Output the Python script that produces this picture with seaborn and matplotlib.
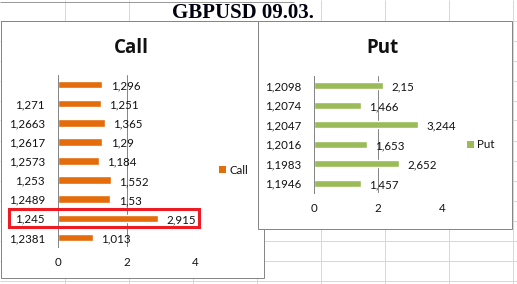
import matplotlib
matplotlib.use("Agg")
import matplotlib.pyplot as plt
import matplotlib.transforms as mtransforms
from matplotlib.patches import Rectangle, Patch
from matplotlib.lines import Line2D
import seaborn as sns
import pandas as pd

# ---------------- data ----------------
call_levels = ["", "1,271", "1,2663", "1,2617", "1,2573", "1,253", "1,2489", "1,245", "1,2381"]
call_values = [1.296, 1.251, 1.365, 1.29, 1.184, 1.552, 1.53, 2.915, 1.013]
put_levels = ["1,2098", "1,2074", "1,2047", "1,2016", "1,1983", "1,1946"]
put_values = [2.15, 1.466, 3.244, 1.653, 2.652, 1.457]
x_ticks = [0, 2, 4]
main_title = "GBPUSD 09.03."
call_title = "Call"
put_title = "Put"
highlight_level = "1,245"

CALL_COLOR = "#E46C0A"
PUT_COLOR = "#9BBB59"
GRID_GRAY = "#868686"
SHEET_GRAY = "#D8D8D8"
TEXT = "#111111"

W, H = 517, 284
sns.set_theme(style="white")
plt.rcParams["font.family"] = ["Lato", "DejaVu Sans"]

fig = plt.figure(figsize=(W / 100, H / 100), dpi=100)
fig.patch.set_facecolor("white")
PX = 0.72  # one pixel in points


def fx(x):
    return x / W


def fy(y):
    return 1 - y / H


def line(x0, y0, x1, y1, color, lw=1.0, z=-10):
    fig.add_artist(Line2D([fx(x0), fx(x1)], [fy(y0), fy(y1)], color=color,
                          lw=lw * PX, zorder=z, solid_capstyle="butt"))


# ---------------- spreadsheet background ----------------
for x in [64, 128, 192, 256, 320, 384, 448, 512]:
    y_start = 0 if x not in (192, 256) else 20.5
    line(x + 0.5, y_start, x + 0.5, H, SHEET_GRAY)
for k in range(15):
    y = 20.5 + 20 * k
    line(0, y, W, y, SHEET_GRAY)
line(0, 1.5, 294, 1.5, "#9A9A9A", z=-9)

fig.text(fx(243), fy(18), main_title, ha="center", va="baseline",
         fontsize=15, fontweight="bold", family=["Liberation Serif"],
         color="#000010", zorder=-8)

# ---------------- panels ----------------
call_panel = Rectangle((fx(0.5), fy(277.5)), fx(264) - fx(0.5), fy(20.5) - fy(277.5),
                       transform=fig.transFigure, facecolor="white",
                       edgecolor=GRID_GRAY, lw=PX, zorder=-5)
fig.add_artist(call_panel)
put_panel = Rectangle((fx(257.5), fy(228.5)), fx(511.5) - fx(257.5), fy(20.5) - fy(228.5),
                      transform=fig.transFigure, facecolor="white",
                      edgecolor=GRID_GRAY, lw=PX, zorder=1)
fig.add_artist(put_panel)


def style_axis(ax, levels, pad):
    ax.set_xlim(0, 4)
    ax.set_xticks(x_ticks)
    ax.set_xticklabels([str(t) for t in x_ticks])
    ax.set_facecolor("none")
    for s in ["top", "right", "bottom"]:
        ax.spines[s].set_visible(False)
    ax.spines["left"].set_color(GRID_GRAY)
    ax.spines["left"].set_linewidth(PX)
    for t in x_ticks[1:]:
        ax.axvline(t, color=GRID_GRAY, lw=PX, zorder=0)
    ax.set_xlabel("")
    ax.set_ylabel("")
    ax.tick_params(axis="x", length=0, pad=7, labelsize=8.3, labelcolor=TEXT)
    ax.tick_params(axis="y", which="major", length=0, pad=pad, labelsize=8.3,
                   labelcolor=TEXT)
    ax.set_yticks([i - 0.5 for i in range(len(levels) + 1)], minor=True)
    ax.tick_params(axis="y", which="minor", length=4, width=PX, color=GRID_GRAY,
                   direction="out")


def label_bars(ax, values):
    for i, v in enumerate(values):
        ax.annotate(f"{v:g}".replace(".", ","), xy=(v, i), xytext=(6, -1),
                    textcoords="offset points", ha="left", va="center",
                    fontsize=8.3, color=TEXT, annotation_clip=False)


# ---------------- Call chart ----------------
ax1 = fig.add_axes([fx(58), fy(247), 137 / W, 172 / H])
ax1.set_zorder(0)
call_df = pd.DataFrame({"level": call_levels, "value": call_values})
sns.barplot(data=call_df, x="value", y="level", order=call_levels, color=CALL_COLOR,
            saturation=1, width=0.4, ax=ax1)
style_axis(ax1, call_levels, 9.5)
label_bars(ax1, call_values)
ax1.legend(handles=[Patch(facecolor=CALL_COLOR, edgecolor="none", label=call_title)],
           loc="center left", bbox_to_anchor=(fx(219), fy(170)),
           bbox_transform=fig.transFigure, frameon=False, fontsize=8.3,
           labelcolor=TEXT, handlelength=0.6, handleheight=0.6, handletextpad=0.3,
           borderpad=0, borderaxespad=0)
fig.text(fx(131), fy(53), call_title, ha="center", va="baseline",
         fontsize=13.5, fontweight="bold", family=["Open Sans", "DejaVu Sans"],
         color=TEXT, zorder=-4)

# highlight box around the chosen level row
idx = call_levels.index(highlight_level)
blend = mtransforms.blended_transform_factory(fig.transFigure, ax1.transData)
fig.add_artist(Rectangle((fx(9), idx - 0.47), fx(199) - fx(9), 0.94,
                         transform=blend, facecolor="none", edgecolor="#ED1C24",
                         lw=2.2, zorder=0.5, clip_on=False))

# ---------------- Put chart ----------------
ax2 = fig.add_axes([fx(314), fy(193), 128 / W, 117 / H])
ax2.set_zorder(2)
put_df = pd.DataFrame({"level": put_levels, "value": put_values})
sns.barplot(data=put_df, x="value", y="level", order=put_levels, color=PUT_COLOR,
            saturation=1, width=0.38, ax=ax2)
style_axis(ax2, put_levels, 9)
label_bars(ax2, put_values)
ax2.legend(handles=[Patch(facecolor=PUT_COLOR, edgecolor="none", label=put_title)],
           loc="center left", bbox_to_anchor=(fx(467), fy(145)),
           bbox_transform=fig.transFigure, frameon=False, fontsize=8.3,
           labelcolor=TEXT, handlelength=0.6, handleheight=0.6, handletextpad=0.3,
           borderpad=0, borderaxespad=0)
fig.text(fx(382), fy(53), put_title, ha="center", va="baseline",
         fontsize=13.5, fontweight="bold", family=["Open Sans", "DejaVu Sans"],
         color=TEXT, zorder=3)

fig.savefig("out.png", dpi=100)
